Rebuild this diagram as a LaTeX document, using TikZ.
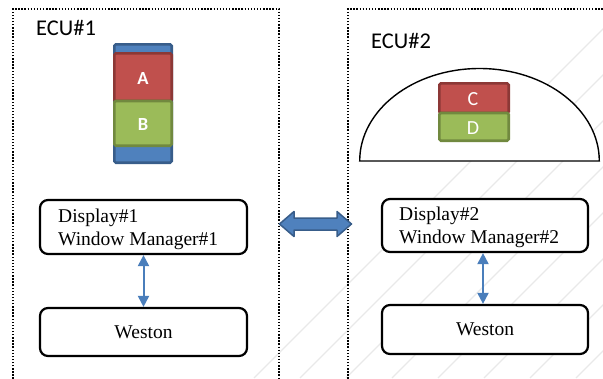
\documentclass[tikz,border=0pt]{standalone}
\usepackage{fontspec}
\setmainfont{Liberation Serif}
\newfontfamily\calib{Carlito}
\usetikzlibrary{arrows.meta}

\definecolor{stackblue}{HTML}{4F81BD}
\definecolor{stackblueedge}{HTML}{385D8A}
\definecolor{stackred}{HTML}{C0504D}
\definecolor{stackrededge}{HTML}{8C3836}
\definecolor{stackgreen}{HTML}{9BBB59}
\definecolor{stackgreenedge}{HTML}{71893F}
\definecolor{linkblue}{HTML}{4A7EBB}
\definecolor{hatchgray}{HTML}{E9E9E9}

\tikzset{
  ecuframe/.style={line width=1.4pt, dash pattern=on 1.4pt off 1.7pt},
  hatchline/.style={hatchgray, line width=1.3pt},
  swbox/.style={draw=black, fill=white, line width=2.2pt, rounded corners=8pt,
    inner sep=0pt},
  swtext/.style={anchor=base west, inner sep=0pt, font=\fontsize{19.5}{22}\selectfont},
  ecutitle/.style={anchor=base west, inner sep=0pt, font=\calib\fontsize{22.5}{26}\selectfont},
  layer/.style={line width=2.6pt, rounded corners=1.5pt},
  layerletter/.style={text=white, inner sep=0pt},
  linkarrow/.style={linkblue, line width=2pt,
    {Triangle[width=11pt,length=11pt]}-{Triangle[width=11pt,length=11pt]}},
}

\begin{document}
\begin{tikzpicture}[x=1pt, y=-1pt]
  \useasboundingbox (0,0) rectangle (603,378);

  % faint diagonal background hatching
  \begin{scope}
    \clip (0,0) rectangle (603,378);
    \foreach \c in {632,678,...,1000}
      \draw[hatchline] (\c-378,378) -- (\c,0);
  \end{scope}

  % ECU frames
  \draw[ecuframe] (13,385) -- (13,9) -- (279,9) -- (279,385);
  \draw[ecuframe] (348,385) -- (348,9) -- (610,9);

  \node[ecutitle] (ecu1) at (36,35) {ECU\#1};
  \node[ecutitle] (ecu2) at (371,48) {ECU\#2};

  % ECU#1 layer stack
  \draw[layer, fill=stackblue, draw=stackblueedge] (114.3,44.3) rectangle (171.7,162.7);
  \draw[layer, fill=stackred, draw=stackrededge] (114.3,53.3) rectangle (171.7,101);
  \draw[layer, fill=stackgreen, draw=stackgreenedge] (114.3,101) rectangle (171.7,145.7);
  \node[layerletter, font=\calib\bfseries\fontsize{18.5}{20}\selectfont] (lA) at (143,78.5) {A};
  \node[layerletter, font=\calib\bfseries\fontsize{18.5}{20}\selectfont] (lB) at (143,124) {B};

  % ECU#2 dome with layers
  \draw[line width=1.4pt, fill=white]
    (359.7,161) arc[start angle=180, end angle=0, x radius=119.8pt, y radius=92.5pt] -- cycle;
  \draw[layer, fill=stackred, draw=stackrededge] (439.3,83.3) rectangle (508.7,113);
  \draw[layer, fill=stackgreen, draw=stackgreenedge] (439.3,113) rectangle (508.7,140.7);
  \node[layerletter, font=\calib\fontsize{20}{22}\selectfont] (lC) at (473,99.5) {C};
  \node[layerletter, font=\calib\fontsize{20}{22}\selectfont] (lD) at (473,128.5) {D};

  % software boxes
  \node[swbox, minimum width=207pt, minimum height=54pt] (disp1) at (143.5,227) {};
  \node[swbox, minimum width=206pt, minimum height=53pt] (disp2) at (485,225.5) {};
  \node[swbox, minimum width=207pt, minimum height=48pt] (west1) at (143.5,332) {};
  \node[swbox, minimum width=206pt, minimum height=49pt] (west2) at (485,329.5) {};

  \node[swtext] (d1a) at (58,222) {Display\#1};
  \node[swtext] (d1b) at (58,245) {Window Manager\#1};
  \node[swtext] (d2a) at (399,220) {Display\#2};
  \node[swtext] (d2b) at (399,243) {Window Manager\#2};
  \node[font=\fontsize{19.5}{22}\selectfont] (w1) at (west1.center) {Weston};
  \node[font=\fontsize{19.5}{22}\selectfont] (w2) at (west2.center) {Weston};

  % links between display and Weston
  \draw[linkarrow] (disp1.south) -- (west1.north);
  \draw[linkarrow] ([xshift=-2pt]disp2.south) -- ([xshift=-2pt]west2.north);

  % block arrow between the ECUs
  \draw[fill=stackblue, draw=stackblueedge, line width=1.5pt, line join=round]
    (279.5,224) -- (294,211.5) -- (294,218) -- (337,218) -- (337,211.5)
    -- (351.5,224) -- (337,236.5) -- (337,230) -- (294,230) -- (294,236.5) -- cycle;
\end{tikzpicture}
\end{document}
